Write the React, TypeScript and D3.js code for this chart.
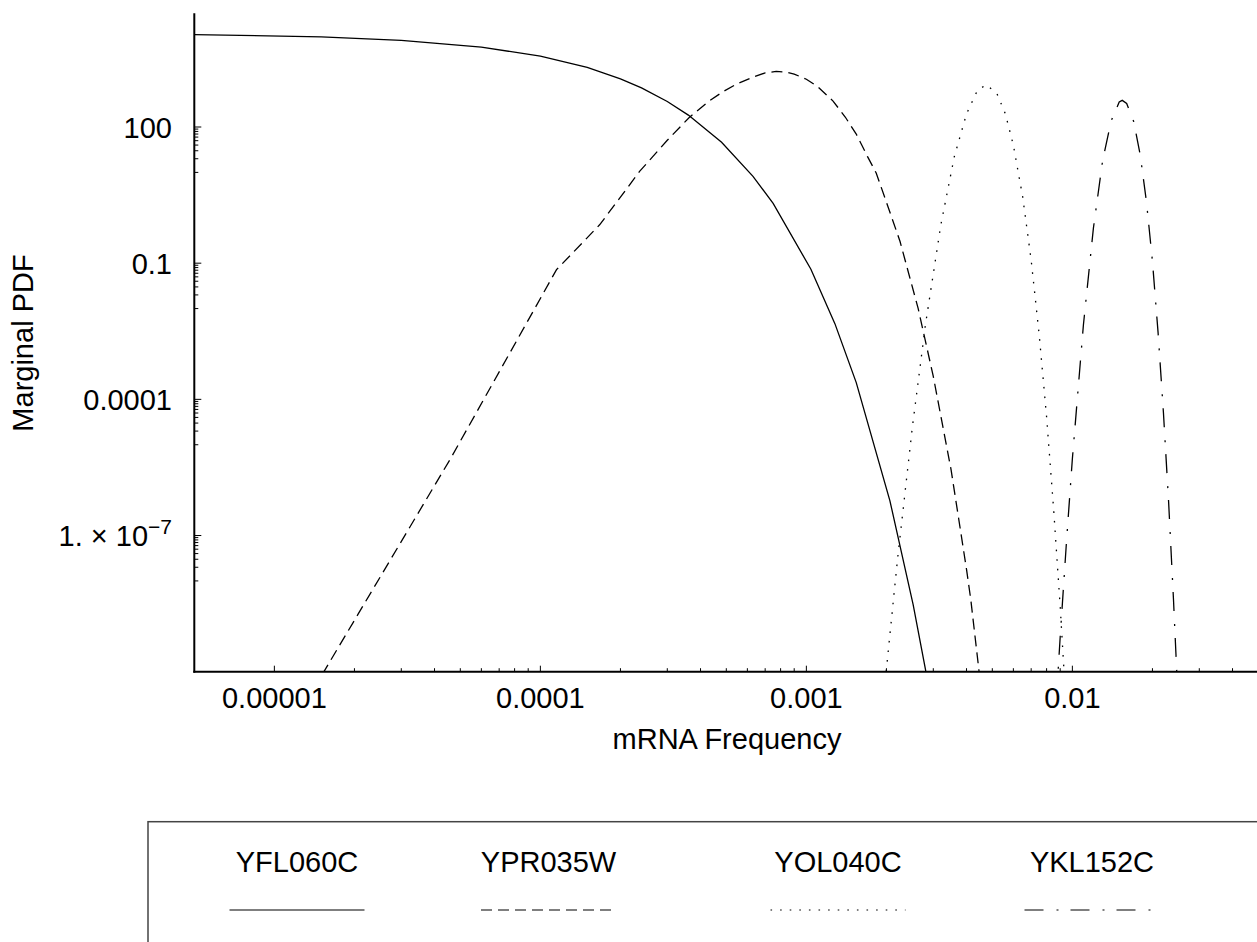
import React from "react";
import * as d3 from "d3";

// values (x = mRNA frequency, y = marginal pdf)
const YFL060C: [number, number][] = [
  [5e-6, 10860], [1.5e-5, 9680], [3e-5, 8145], [6e-5, 5770], [1e-4, 3640],
  [1.5e-4, 2050], [2e-4, 1150], [2.4e-4, 728], [3e-4, 365], [3.6e-4, 183],
  [4.8e-4, 46], [6.3e-4, 8.2], [7.5e-4, 2.07], [1.04e-3, 0.0735],
  [1.28e-3, 4.66e-3], [1.54e-3, 2.34e-4], [2.06e-3, 5.9e-7], [2.52e-3, 2.99e-9],
  [2.8e-3, 1.17e-10], [3e-3, 1.18e-11],
];

const YPR035W: [number, number][] = [
  [1.3e-5, 2e-11], [1.55e-5, 1.1e-10], [4.6e-5, 5e-6], [1.15e-4, 0.072],
  [1.67e-4, 0.7], [2e-4, 2.85], [2.36e-4, 10.5], [3e-4, 51], [3.62e-4, 160],
  [4.3e-4, 370], [4.86e-4, 600], [5.5e-4, 900], [6.3e-4, 1260], [7e-4, 1560],
  [7.7e-4, 1680], [8.4e-4, 1620], [9e-4, 1466], [1e-3, 1130], [1.1e-3, 789],
  [1.26e-3, 372], [1.4e-3, 166], [1.54e-3, 70], [1.7e-3, 22], [1.83e-3, 9.7],
  [2e-3, 2.2], [2.25e-3, 0.3], [2.63e-3, 0.0102], [3e-3, 3.2e-4],
  [3.5e-3, 2.8e-6], [4e-3, 1.8e-8], [4.15e-3, 3.9e-9], [4.46e-3, 1e-10],
  [4.6e-3, 2e-11],
];

const YOL040C: [number, number][] = [
  [1.95e-3, 2.4e-11], [2e-3, 1.15e-10], [2.2e-3, 2.9e-8], [2.5e-3, 2.3e-5],
  [2.8e-3, 4.2e-3], [3.2e-3, 0.68], [3.6e-3, 22.4], [4e-3, 195], [4.4e-3, 646],
  [4.75e-3, 851], [5.2e-3, 550], [5.6e-3, 195], [6e-3, 39.8], [6.5e-3, 2.95],
  [7e-3, 0.117], [7.5e-3, 2.7e-3], [8e-3, 4.1e-5], [8.5e-3, 3.9e-7],
  [9e-3, 2.7e-9], [9.5e-3, 1.3e-11],
];

const YKL152C: [number, number][] = [
  [8.7e-3, 2.3e-11], [9e-3, 5.9e-10], [9.5e-3, 7.1e-8], [0.01, 4.9e-6],
  [0.011, 4.3e-3], [0.012, 0.6], [0.013, 18.6], [0.014, 138], [0.015, 355],
  [0.0154, 386], [0.016, 331], [0.017, 132], [0.018, 24], [0.019, 2.19],
  [0.02, 0.11], [0.021, 2.95e-3], [0.022, 5e-5], [0.023, 5.6e-7],
  [0.024, 3.8e-9], [0.025, 1.9e-11],
];

const SERIES_NAMES = ["YFL060C", "YPR035W", "YOL040C", "YKL152C"];
const SERIES_DATA = [YFL060C, YPR035W, YOL040C, YKL152C];

const X_MAJOR = [1e-5, 1e-4, 1e-3, 1e-2];
const X_LABELS = ["0.00001", "0.0001", "0.001", "0.01"];
const Y_MAJOR = [100, 0.1, 1e-4, 1e-7];
const Y_LABELS = ["100", "0.1", "0.0001", "1.×10^-7"];

const DASHES = ["none", "11,6", "1.6,8", "19,13,2,12"];
const LEGEND_X = [297, 548.5, 838, 1092];

const FONT = "'Liberation Sans', Arial, Helvetica, sans-serif";

export default function App() {
  const W = 1257;
  const H = 942;
  const left = 194.3;
  const top = 13.3;
  const bottom = 671.7;

  const x = d3.scaleLog().domain([5e-6, 0.05]).range([left, 1258.3]);
  const y = d3.scaleLog().domain([1e-10, 3.2e4]).range([bottom, top]);

  const line = d3
    .line<[number, number]>()
    .x((d) => x(d[0]))
    .y((d) => y(d[1]));

  const xMinor: number[] = [];
  X_MAJOR.forEach((d) => {
    for (let m = 2; m <= 9; m++) {
      if (m * d <= 0.05) xMinor.push(m * d);
    }
  });

  const yMinor: number[] = [];
  Y_MAJOR.forEach((d) => {
    for (let m = 1; m <= 9; m++) yMinor.push((d * m) / 10);
  });

  return (
    <svg
      width={W}
      height={H}
      style={{ position: "absolute", left: 0, top: 0, background: "#fff" }}
      fontFamily={FONT}
    >
      <defs>
        <clipPath id="plotArea">
          <rect x={left} y={top} width={W - left} height={bottom - top} />
        </clipPath>
      </defs>

      <g clipPath="url(#plotArea)">
        {SERIES_DATA.map((data, i) => (
          <path
            key={SERIES_NAMES[i]}
            d={line(data) ?? ""}
            fill="none"
            stroke="#000"
            strokeWidth={1.3}
            strokeDasharray={DASHES[i]}
          />
        ))}
      </g>

      {/* x ticks */}
      {X_MAJOR.map((v) => (
        <line key={"xM" + v} x1={x(v)} x2={x(v)} y1={bottom} y2={bottom - 6} stroke="#000" strokeWidth={1} />
      ))}
      {xMinor.map((v) => (
        <line key={"xm" + v} x1={x(v)} x2={x(v)} y1={bottom} y2={bottom - 3.5} stroke="#000" strokeWidth={1} />
      ))}

      {/* y ticks */}
      {Y_MAJOR.map((v) => (
        <line key={"yM" + v} x1={left} x2={left + 7} y1={y(v)} y2={y(v)} stroke="#000" strokeWidth={1} />
      ))}
      {yMinor.map((v) => (
        <line key={"ym" + v} x1={left} x2={left + 4} y1={y(v)} y2={y(v)} stroke="#000" strokeWidth={1} />
      ))}

      {/* axes */}
      <line x1={left} x2={left} y1={top} y2={bottom + 1} stroke="#000" strokeWidth={2} />
      <line x1={left - 1} x2={W} y1={bottom} y2={bottom} stroke="#000" strokeWidth={2} />

      {/* tick labels */}
      {X_MAJOR.map((v, i) => (
        <text key={"xl" + v} x={x(v)} y={708} textAnchor="middle" fontSize={29}>
          {X_LABELS[i]}
        </text>
      ))}
      {Y_MAJOR.map((v, i) => {
        const label = Y_LABELS[i];
        if (label.includes("^")) {
          const [base, exp] = label.split("^");
          return (
            <text key={"yl" + v} x={172} y={y(v) + 10.5} textAnchor="end" fontSize={29}>
              <tspan>{base.replace("×", " × ")}</tspan>
              <tspan dy={-12} fontSize={21}>
                {exp.replace("-", "\u2212")}
              </tspan>
            </text>
          );
        }
        return (
          <text key={"yl" + v} x={172} y={y(v) + 10.5} textAnchor="end" fontSize={29}>
            {label}
          </text>
        );
      })}

      {/* axis titles */}
      <text x={727} y={749} textAnchor="middle" fontSize={29}>
        mRNA Frequency
      </text>
      <text transform="translate(33, 343) rotate(-90)" textAnchor="middle" fontSize={29}>
        Marginal PDF
      </text>

      {/* legend */}
      <rect x={148} y={821.7} width={1200} height={200} fill="none" stroke="#444" strokeWidth={1.5} />
      {SERIES_NAMES.map((name, i) => (
        <g key={"lg" + name}>
          <text x={LEGEND_X[i]} y={872} textAnchor="middle" fontSize={29}>
            {name}
          </text>
          <line
            x1={LEGEND_X[i] - 67.5}
            x2={LEGEND_X[i] + 67.5}
            y1={910}
            y2={910}
            stroke="#555"
            strokeWidth={1.3}
            strokeDasharray={DASHES[i]}
          />
        </g>
      ))}
    </svg>
  );
}
